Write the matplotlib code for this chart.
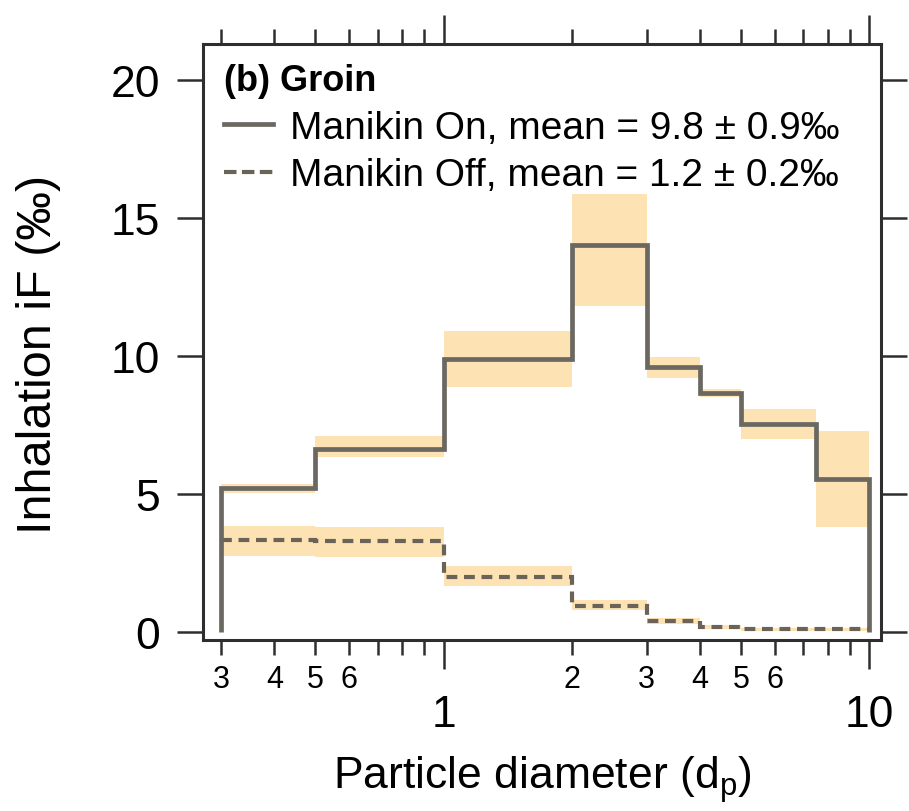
import numpy as np
import matplotlib
matplotlib.use("Agg")
import matplotlib.pyplot as plt
from matplotlib.lines import Line2D
from matplotlib.ticker import FixedLocator, FixedFormatter

plt.rcParams['font.family'] = ['Liberation Sans', 'DejaVu Sans']
plt.rcParams['mathtext.fontset'] = 'custom'
plt.rcParams['mathtext.rm'] = 'Liberation Sans'
plt.rcParams['mathtext.it'] = 'Liberation Sans:italic'

# bin edges (particle diameter)
edges = [0.3, 0.5, 1.0, 2.0, 3.0, 4.0, 5.0, 7.5, 10.0]

# Manikin On
on_mean = [5.20, 6.63, 9.89, 14.02, 9.60, 8.66, 7.54, 5.54]
on_low = [5.05, 6.35, 8.87, 11.80, 9.20, 8.50, 7.00, 3.80]
on_high = [5.35, 7.10, 10.90, 15.87, 9.96, 8.80, 8.08, 7.28]

# Manikin Off
off_mean = [3.35, 3.28, 1.99, 0.95, 0.40, 0.18, 0.10, 0.10]
off_low = [2.75, 2.70, 1.67, 0.80, 0.30, 0.10, 0.05, 0.05]
off_high = [3.85, 3.80, 2.40, 1.15, 0.50, 0.25, 0.15, 0.15]

on_label = "Manikin On, mean = 9.8 \u00b1 0.9\u2030"
off_label = "Manikin Off, mean = 1.2 \u00b1 0.2\u2030"

band_color = '#fde3b3'
line_color = '#6b6862'
off_color = '#6b6258'
axis_color = '#2e2e2e'

fig = plt.figure(figsize=(9.09, 8.12), dpi=100)
# frame: x 203..881 px, y 45..641 px
ax = fig.add_axes([203 / 909, 1 - 641 / 812, 678 / 909, 596 / 812])

# shaded uncertainty bands
ax.stairs(on_high, edges, baseline=on_low, fill=True, color=band_color, lw=0, zorder=1)
ax.stairs(off_high, edges, baseline=off_low, fill=True, color=band_color, lw=0, zorder=1)

# step lines
ax.stairs(off_mean, edges, baseline=None, color=off_color, lw=3.0,
          linestyle=(0, (2.6, 1.6)), zorder=2)
ax.stairs(on_mean, edges, baseline=0, color=line_color, lw=3.4, zorder=3)

ax.set_xscale('log')
ax.set_xlim(0.272, 10.67)
ax.set_ylim(-0.29, 21.3)

# ticks
ax.set_yticks([0, 5, 10, 15, 20])
ax.yaxis.set_minor_locator(FixedLocator([]))
ax.xaxis.set_major_locator(FixedLocator([1, 10]))
ax.xaxis.set_major_formatter(FixedFormatter(['1', '10']))
minor = [0.3, 0.4, 0.5, 0.6, 0.7, 0.8, 0.9, 2, 3, 4, 5, 6, 7, 8, 9]
minor_lbl = ['3', '4', '5', '6', '', '', '', '2', '3', '4', '5', '6', '', '', '']
ax.xaxis.set_minor_locator(FixedLocator(minor))
ax.xaxis.set_minor_formatter(FixedFormatter(minor_lbl))

ax.tick_params(axis='both', which='both', direction='out', top=True, right=True,
               width=1.8, color=axis_color)
ax.tick_params(axis='y', which='major', length=19, labelsize=32, pad=12)
ax.tick_params(axis='x', which='major', length=21, labelsize=32, pad=18)
ax.tick_params(axis='x', which='minor', length=11, labelsize=22, pad=6)

for s in ax.spines.values():
    s.set_linewidth(2.2)
    s.set_color(axis_color)

ax.set_xlabel('Particle diameter (d$_\\mathrm{p}$)', fontsize=32)
ax.set_ylabel('Inhalation iF (\u2030)', fontsize=35)
ax.xaxis.set_label_coords(0.5, -0.19)
ax.yaxis.set_label_coords(-0.21, 0.48)

h_on = Line2D([], [], color=line_color, lw=3.4)
h_off = Line2D([], [], color=off_color, lw=3.0, linestyle=(0, (3.0, 1.3)))
leg = ax.legend([h_on, h_off], [on_label, off_label], loc='upper left',
                bbox_to_anchor=(0.031, 0.968), frameon=False, fontsize=28,
                title='(b) Groin',
                title_fontproperties={'weight': 'bold', 'size': 26},
                alignment='left', handlelength=1.25, handletextpad=0.45,
                borderaxespad=0, labelspacing=0.3, borderpad=0)

fig.savefig('out.png', dpi=100)
